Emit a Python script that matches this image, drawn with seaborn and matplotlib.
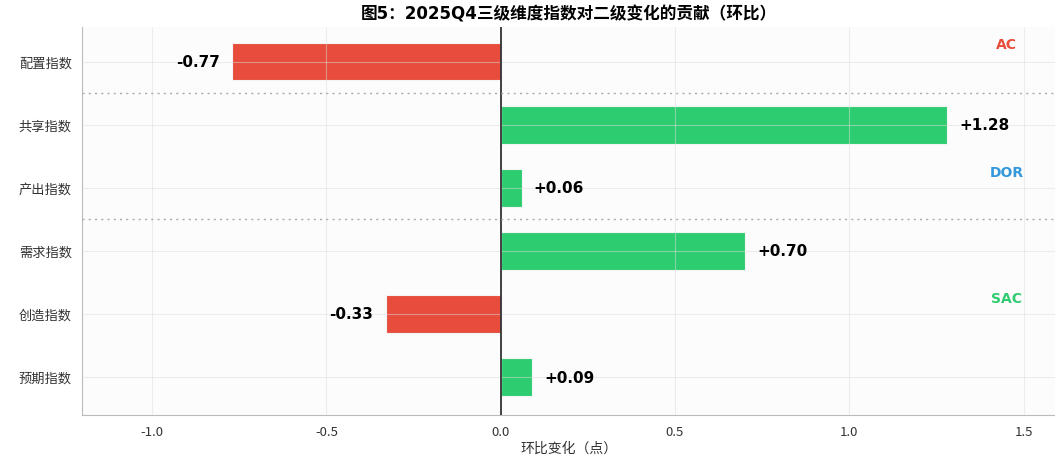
import pandas as pd
import seaborn as sns
import matplotlib.pyplot as plt

# Data
categories = ['配置指数', '共享指数', '产出指数', '需求指数', '创造指数', '预期指数']
changes = [-0.77, 1.28, 0.06, 0.70, -0.33, 0.09]
groups = ['AC', 'DOR', 'SAC']
group_colors = ['#e74c3c', '#3498db', '#2ecc71']
group_label_pos = [-0.28, 1.75, 3.75]
separators = [0.5, 2.5]

df = pd.DataFrame({'指数': categories, '变化': changes})
df['方向'] = ['正' if v >= 0 else '负' for v in df['变化']]

sns.set_style('whitegrid')
plt.rcParams['font.family'] = ['Noto Sans CJK SC', 'DejaVu Sans']
plt.rcParams['axes.unicode_minus'] = False

fig = plt.figure(figsize=(10.55, 4.56), dpi=100)
ax = fig.add_axes([0.078, 0.088, 0.922, 0.851])
ax.set_facecolor('#fcfcfc')

sns.barplot(data=df, y='指数', x='变化', hue='方向', orient='h',
            palette={'正': '#2ecc71', '负': '#e74c3c'}, width=0.6, saturation=1,
            edgecolor='#f4f4f4', linewidth=0.8, dodge=False, legend=False, ax=ax)

# grid drawn over the bars, faint
ax.set_axisbelow(False)
ax.grid(True, color='#dddddd', linewidth=0.8, alpha=0.5)

ax.axvline(0, color='#333333', linewidth=1.3, zorder=3)
for s in separators:
    ax.axhline(s, color='#aaaaaa', linestyle=(0, (1.5, 3)), linewidth=1.0, zorder=3)

for i, v in enumerate(changes):
    txt = f'{v:+.2f}'
    if v >= 0:
        ax.text(v + 0.035, i, txt, ha='left', va='center', fontsize=11,
                fontweight='bold', family='DejaVu Sans', color='black')
    else:
        ax.text(v - 0.035, i, txt, ha='right', va='center', fontsize=11,
                fontweight='bold', family='DejaVu Sans', color='black')

for g, c, y in zip(groups, group_colors, group_label_pos):
    ax.text(0.95, y, g, transform=ax.get_yaxis_transform(), color=c,
            ha='center', va='center', fontsize=10, fontweight='bold',
            family='DejaVu Sans')

ax.set_xlim(-1.2, 1.59)
ax.set_ylim(5.6, -0.55)
ax.set_xticks([-1.0, -0.5, 0.0, 0.5, 1.0, 1.5])
ax.set_xlabel('环比变化（点）', fontsize=10, labelpad=2, color='#333333')
ax.set_ylabel('')
ax.tick_params(axis='both', labelsize=9.5, length=4, color='#555555',
               labelcolor='#333333')
for side in ['top', 'right']:
    ax.spines[side].set_visible(False)
for side in ['left', 'bottom']:
    ax.spines[side].set_color('#bbbbbb')

ax.set_title('图5：2025Q4三级维度指数对二级变化的贡献（环比）', fontsize=12,
             fontweight='bold', family=['DejaVu Sans', 'Noto Sans CJK SC'],
             pad=6, color='black')

fig.savefig('out.png', dpi=100)
